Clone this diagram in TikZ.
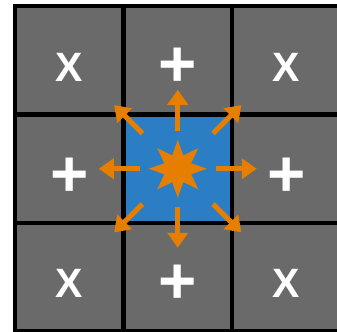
\documentclass[tikz,border=0pt]{standalone}
\usepackage{fontspec}
\setmainfont{Liberation Sans}
\usetikzlibrary{shapes.geometric,arrows.meta,calc}
\definecolor{cellgray}{HTML}{6A6A6A}
\definecolor{cellblue}{HTML}{2C7EC4}
\definecolor{rayorange}{HTML}{E67E00}
\begin{document}
\begin{tikzpicture}[
    x=0.03cm, y=-0.03cm,
    cell/.style={rectangle, fill=cellgray, draw=black, line width=4.2pt, minimum size=3.255cm, inner sep=0pt},
    centre/.style={cell, fill=cellblue},
    xsym/.style={text=white, font=\bfseries\fontsize{35}{40}\selectfont, inner sep=0pt},
    psym/.style={text=white, font=\bfseries\fontsize{56}{60}\selectfont, inner sep=0pt},
    burst/.style={star, star points=8, star point ratio=2, minimum size=1.74cm, inner sep=0pt, fill=rayorange},
    ray/.style={-{Triangle[length=0.45cm, width=0.6cm]}, line width=4.4pt, rayorange},
]
\useasboundingbox (0,0) rectangle (337,331);
\node[cell] (c11) at (69.25,60.25) {};
\node[cell] (c12) at (177.75,60.25) {};
\node[cell] (c13) at (286.25,60.25) {};
\node[cell] (c21) at (69.25,168.75) {};
\node[centre] (c22) at (177.75,168.75) {};
\node[cell] (c23) at (286.25,168.75) {};
\node[cell] (c31) at (69.25,277.25) {};
\node[cell] (c32) at (177.75,277.25) {};
\node[cell] (c33) at (286.25,277.25) {};

\node[xsym] (l11) at ($(c11)+(0,7)$) {X};
\node[psym] (l12) at ($(c12)+(0,7)$) {+};
\node[xsym] (l13) at ($(c13)+(0,7)$) {X};
\node[psym] (l21) at ($(c21)+(0,9)$) {+};
\node[psym] (l23) at ($(c23)+(0,9)$) {+};
\node[xsym] (l31) at ($(c31)+(0,6)$) {X};
\node[psym] (l32) at ($(c32)+(0,7)$) {+};
\node[xsym] (l33) at ($(c33)+(0,6)$) {X};

\node[burst] (spark) at (c22) {};
\foreach \a/\r/\R in {0/38/79, 45/50/90, 90/38/79, 135/50/90, 180/38/79, 225/50/90, 270/38/79, 315/50/90} {
  \coordinate (s\a) at ($(spark)+(\a:\r)$);
  \coordinate (t\a) at ($(spark)+(\a:\R)$);
  \draw[ray] (s\a) -- (t\a);
}
\end{tikzpicture}
\end{document}
